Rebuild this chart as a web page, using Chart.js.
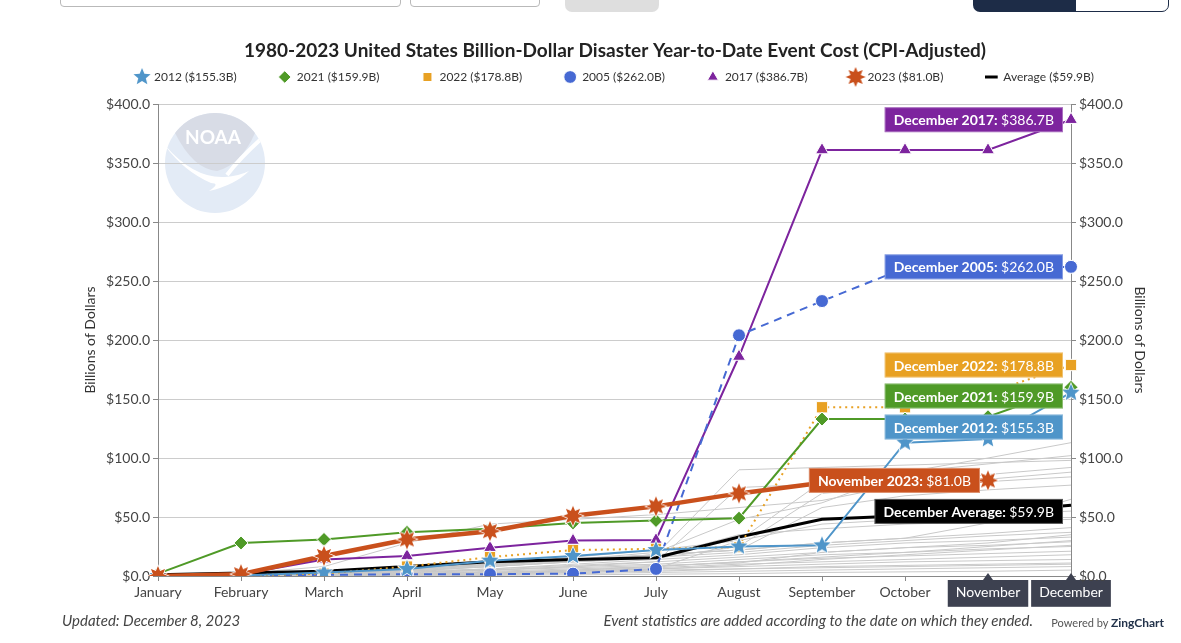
<!DOCTYPE html>
<html>
<head>
<meta charset="utf-8">
<script src="https://cdn.jsdelivr.net/npm/chart.js@4.4.1/dist/chart.umd.min.js"></script>
<style>
  body { margin: 0; background: #fff; font-family: Lato, sans-serif; }
  #wrap { position: relative; width: 1181px; height: 643px; overflow: hidden; }
  #chart { position: absolute; left: 0; top: 0; }
  .ui { position: absolute; box-sizing: border-box; }
  .note { position: absolute; font-style: italic; font-size: 15px; color: #444; white-space: nowrap; }
  .zing { position: absolute; font-size: 11px; color: #555; white-space: nowrap; }
</style>
</head>
<body>
<div id="wrap">
  <div class="ui" style="left:60px;top:-30px;width:341px;height:37px;border:1px solid #b9b9b9;border-radius:4px"></div>
  <div class="ui" style="left:410px;top:-30px;width:130px;height:37px;border:1px solid #b9b9b9;border-radius:4px"></div>
  <div class="ui" style="left:565px;top:-20px;width:94px;height:32px;background:#dedede;border-radius:7px"></div>
  <div class="ui" style="left:973px;top:-20px;width:103px;height:32px;background:#1d2c47;border-radius:0 0 0 7px"></div>
  <div class="ui" style="left:1075px;top:-20px;width:94px;height:32px;border:1px solid #1d2c47;border-radius:0 0 7px 0"></div>
  <canvas id="chart" width="1181" height="643"></canvas>
  <div class="note" style="left:62px;top:611px">Updated: December 8, 2023</div>
  <div class="note" style="right:148px;top:611px">Event statistics are added according to the date on which they ended.</div>
  <div class="zing" style="right:17px;top:615px">Powered by <b style="color:#22324a;font-size:12px">ZingChart</b></div>
</div>
<script>
// months on the x axis
const months = ['January', 'February', 'March', 'April', 'May', 'June', 'July',
  'August', 'September', 'October', 'November', 'December']

// highlighted years, cumulative cost in billions (CPI-adjusted)
const y2012 = [0, 0.5, 3, 6, 13, 17, 22, 25, 26, 113, 116, 155.3]
const y2021 = [2, 28, 31, 37, 40, 45, 47, 49, 133, 133, 135, 159.9]
const y2022 = [0, 0.5, 2, 8, 16, 22, 23, 24.5, 143, 143, 155, 178.8]
const y2005 = [0, 0.5, 1, 1.5, 1.5, 2, 6, 204, 233, 261, 261, 262.0]
const y2017 = [0.5, 1.5, 14, 17, 24, 30, 30.5, 186, 361, 361, 361, 386.7]
const y2023 = [0, 1.5, 17, 31, 38, 51, 59, 70, 79, 80, 81.0, null]
const average = [1, 2.5, 4, 8, 12, 14, 15.5, 33, 48, 51, 54, 59.9]

// the other years (grey background lines)
const otherYears = [
  [0, 1, 3, 6, 9, 14, 20, 48, 62, 88, 100, 113],
  [0, 1, 3, 6, 10, 16, 22, 30, 80, 88, 95, 102],
  [1, 2, 4, 7, 10, 14, 18, 90, 92, 94, 96, 98],
  [0, 2, 8, 28, 44, 48, 52, 58, 64, 78, 86, 92],
  [0, 1, 2, 3, 5, 8, 12, 75, 78, 80, 82, 88],
  [0, 1, 2, 4, 8, 12, 15, 25, 70, 76, 80, 84],
  [0, 0.5, 2, 5, 9, 13, 18, 22, 58, 68, 73, 77],
  [0, 1, 3, 6, 10, 14, 18, 22, 28, 32, 45, 65],
  [0, 0.5, 1, 2, 3, 4, 6, 30, 44, 48, 52, 55],
  [0, 1, 2, 5, 8, 12, 16, 35, 40, 44, 46, 48],
  [0, 1, 3, 6, 10, 14, 18, 22, 28, 32, 36, 41],
  [0, 1, 2, 4, 8, 12, 16, 20, 26, 30, 34, 37],
  [0, 1, 2, 3, 5, 7, 9, 11, 20, 24, 28, 35],
  [0, 0.5, 1.5, 3, 6, 10, 14, 18, 24, 28, 30, 33],
  [0, 0.5, 1, 2, 3, 5, 8, 12, 16, 20, 25, 30],
  [0, 1, 2, 4, 6, 9, 12, 16, 20, 24, 26, 29],
  [0, 0, 1, 1.5, 3, 4, 6, 9, 14, 18, 22, 26],
  [0, 0.5, 1, 3, 5, 8, 10, 14, 18, 20, 23, 25],
  [0, 0.5, 1, 2, 4, 6, 8, 12, 15, 17, 19, 21],
  [0, 0, 1, 2, 3, 5, 7, 10, 12, 14, 16, 18],
  [0, 0, 0.5, 1, 2, 4, 6, 8, 10, 12, 13, 14],
  [0, 0, 0.5, 1, 2, 3, 5, 6, 8, 9, 10, 11],
  [0, 0, 0.5, 1, 1.5, 3, 4, 6, 7, 8, 9, 10],
  [0, 0, 0, 0.5, 1, 2, 3, 4, 5, 6, 7, 8],
  [0, 0, 0, 0, 0.5, 1, 1.5, 2, 3, 3.5, 4, 5]
]

const FONT = 'Lato'

// star markers (chart.js 'star' is not a filled star)
function starMarker(points, outer, inner, color) {
  const size = Math.ceil(outer * 2 + 4)
  const c = document.createElement('canvas')
  c.width = c.height = size
  const g = c.getContext('2d')
  g.translate(size / 2, size / 2)
  g.beginPath()
  for (let i = 0; i < points * 2; i++) {
    const r = i % 2 ? inner : outer
    const a = Math.PI * i / points - Math.PI / 2
    g.lineTo(Math.cos(a) * r, Math.sin(a) * r)
  }
  g.closePath()
  g.lineWidth = 1.5
  g.strokeStyle = '#fff'
  g.stroke()
  g.fillStyle = color
  g.fill()
  return c
}

function lastValue(arr) {
  for (let i = arr.length - 1; i >= 0; i--) if (arr[i] != null) return arr[i]
}

function series(tag, data, color, extra) {
  return Object.assign({
    label: tag + ' ($' + lastValue(data).toFixed(1) + 'B)',
    tag: tag,
    data: data,
    borderColor: color,
    backgroundColor: color,
    pointBackgroundColor: color,
    pointBorderColor: '#fff',
    pointBorderWidth: 1,
    borderWidth: 2,
    order: 1
  }, extra)
}

const datasets = [
  series('2012', y2012, '#4f95c9', { pointStyle: starMarker(5, 9, 4, '#4f95c9'), pointRadius: 8 }),
  series('2021', y2021, '#4f9a27', { pointStyle: 'rectRot', pointRadius: 7 }),
  series('2022', y2022, '#e8a123', { pointStyle: 'rect', pointRadius: 8, borderDash: [2, 4] }),
  series('2005', y2005, '#4669d3', { pointStyle: 'circle', pointRadius: 6.5, borderDash: [8, 6] }),
  series('2017', y2017, '#7d249e', { pointStyle: 'triangle', pointRadius: 7.5 }),
  series('2023', y2023, '#c9501c', { pointStyle: starMarker(8, 10, 5.5, '#c9501c'), pointRadius: 9, borderWidth: 4.5, order: 0 }),
  series('Average', average, '#000', { pointStyle: 'line', pointRadius: 0, pointBorderColor: '#000', pointBorderWidth: 3, borderWidth: 3, order: 2 })
]
otherYears.forEach(d => datasets.push({
  label: '', data: d, borderColor: '#c9c9c9', borderWidth: 1, pointRadius: 0, order: 3
}))

// title sits over the legend row without taking layout space,
// legend gets a bit more room below it
const headerLayout = {
  id: 'headerLayout',
  beforeInit(chart) {
    if (chart.titleBlock) {
      const tupd = chart.titleBlock.update
      chart.titleBlock.update = function (w, h, m) {
        tupd.call(this, w, h, m)
        this.height = 0
        this.bottom = this.top
      }
    }
    if (chart.legend) {
      const lfit = chart.legend.fit
      chart.legend.fit = function () { lfit.call(this); this.height += 11 }
    }
  }
}

// watermark behind the plot
const noaaLogo = {
  id: 'noaaLogo',
  beforeDraw(chart) {
    const { ctx, chartArea } = chart
    const cx = chartArea.left + 57, cy = chartArea.top + 59, r = 50
    ctx.save()
    ctx.beginPath()
    ctx.arc(cx, cy, r, 0, Math.PI * 2)
    ctx.clip()
    ctx.fillStyle = '#e3ebf6'
    ctx.fillRect(cx - r, cy - r, r * 2, r * 2)
    // grey bowl at the top
    ctx.beginPath()
    ctx.moveTo(cx - 40, cy - 60)
    ctx.lineTo(cx - 40, cy - 30)
    ctx.quadraticCurveTo(cx - 22, cy + 6, cx + 2, cy + 8)
    ctx.quadraticCurveTo(cx + 26, cy + 2, cx + 40, cy - 30)
    ctx.lineTo(cx + 40, cy - 60)
    ctx.closePath()
    ctx.fillStyle = '#d8dce6'
    ctx.fill()
    // white bird
    ctx.beginPath()
    ctx.moveTo(cx - 52, cy - 20)
    ctx.quadraticCurveTo(cx - 22, cy + 16, cx + 10, cy + 14)
    ctx.quadraticCurveTo(cx + 24, cy + 13, cx + 34, cy + 8)
    ctx.quadraticCurveTo(cx + 20, cy + 22, cx - 6, cy + 28)
    ctx.quadraticCurveTo(cx + 6, cy + 20, cx - 4, cy + 20)
    ctx.quadraticCurveTo(cx - 32, cy + 8, cx - 52, cy - 20)
    ctx.fillStyle = '#fff'
    ctx.fill()
    ctx.beginPath()
    ctx.moveTo(cx + 46, cy - 24)
    ctx.quadraticCurveTo(cx + 24, cy - 4, cx + 12, cy + 12)
    ctx.lineWidth = 4
    ctx.strokeStyle = '#fff'
    ctx.stroke()
    ctx.fillStyle = '#fff'
    ctx.font = 'bold 19px ' + FONT
    ctx.textAlign = 'center'
    ctx.textBaseline = 'middle'
    ctx.fillText('NOAA', cx - 2, cy - 25)
    ctx.restore()
  }
}

// end-of-series value boxes
const endLabels = {
  id: 'endLabels',
  afterDatasetsDraw(chart) {
    const ctx = chart.ctx
    const items = []
    chart.data.datasets.forEach((ds, i) => {
      if (!ds.tag) return
      let k = ds.data.length - 1
      while (ds.data[k] == null) k--
      const pt = chart.getDatasetMeta(i).data[k]
      items.push({ ds, k, x: pt.x, y: pt.y })
    })
    items.sort((a, b) => a.y - b.y)
    const h = 25, gap = 6
    const placed = []
    ctx.save()
    ctx.textBaseline = 'middle'
    items.forEach(it => {
      const head = months[it.k] + ' ' + it.ds.tag + ': '
      const val = '$' + it.ds.data[it.k].toFixed(1) + 'B'
      ctx.font = 'bold 14px ' + FONT
      const w1 = ctx.measureText(head).width
      ctx.font = '14px ' + FONT
      const w2 = ctx.measureText(val).width
      const w = w1 + w2 + 18
      const right = it.x - 8, left = right - w
      let cy = it.y
      placed.forEach(p => {
        if (left < p.right && right > p.left && cy - h / 2 < p.bottom + gap) cy = p.bottom + gap + h / 2
      })
      placed.push({ left, right, bottom: cy + h / 2 })
      ctx.fillStyle = it.ds.borderColor
      ctx.fillRect(left, cy - h / 2, w, h)
      ctx.strokeStyle = 'rgba(255,255,255,0.35)'
      ctx.lineWidth = 1
      ctx.strokeRect(left + 0.5, cy - h / 2 + 0.5, w - 1, h - 1)
      ctx.fillStyle = '#fff'
      ctx.font = 'bold 14px ' + FONT
      ctx.fillText(head, left + 9, cy + 1)
      ctx.font = '14px ' + FONT
      ctx.fillText(val, left + 9 + w1, cy + 1)
    })
    ctx.restore()
  },
  afterDraw(chart) {
    // little crosshair markers under the last two months
    const ctx = chart.ctx
    const x = chart.scales.x
    ctx.save()
    ctx.fillStyle = '#3d4150'
    ;[10, 11].forEach(i => {
      const px = x.getPixelForValue(i)
      ctx.beginPath()
      ctx.moveTo(px, x.top - 3)
      ctx.lineTo(px - 5, x.top + 4)
      ctx.lineTo(px + 5, x.top + 4)
      ctx.fill()
    })
    ctx.restore()
  }
}

const money = v => '$' + Number(v).toFixed(1)
const tickFont = { family: FONT, size: 14 }

new Chart(document.getElementById('chart'), {
  type: 'line',
  data: { labels: months, datasets: datasets },
  plugins: [headerLayout, noaaLogo, endLabels],
  options: {
    responsive: false,
    animation: false,
    layout: { padding: { top: 29, left: 82, right: 33, bottom: 31 } },
    plugins: {
      tooltip: { enabled: false },
      title: {
        display: true,
        text: '1980-2023 United States Billion-Dollar Disaster Year-to-Date Event Cost (CPI-Adjusted)',
        color: '#222',
        font: { family: FONT, size: 19, weight: 'bold' },
        padding: { top: 10, bottom: 0 }
      },
      legend: {
        labels: {
          usePointStyle: true,
          boxHeight: 9,
          padding: 42,
          color: '#333',
          font: { family: FONT, size: 12 },
          filter: item => item.text !== '',
          sort: (a, b) => a.datasetIndex - b.datasetIndex
        }
      }
    },
    scales: {
      x: {
        grid: { drawOnChartArea: false, tickLength: 5, color: '#888' },
        border: { color: '#888' },
        ticks: {
          font: tickFont,
          padding: 3,
          maxRotation: 0,
          autoSkip: false,
          color: c => c.index >= 10 ? '#fff' : '#444',
          showLabelBackdrop: true,
          backdropColor: c => c.index >= 10 ? '#3d4150' : 'rgba(0,0,0,0)',
          backdropPadding: { top: 4, bottom: 6, left: 8, right: 8 }
        },
        afterFit: s => { s.height = 36 }
      },
      y: {
        position: 'left',
        min: 0, max: 400,
        ticks: { stepSize: 50, callback: money, font: tickFont, color: '#444', padding: 3 },
        grid: { color: '#cccccc', tickColor: '#888', tickLength: 5 },
        border: { color: '#888' },
        title: { display: true, text: 'Billions of Dollars', color: '#333', font: tickFont, padding: 0 },
        afterFit: s => { s.width = 76 }
      },
      y2: {
        position: 'right',
        min: 0, max: 400,
        ticks: { stepSize: 50, callback: money, font: tickFont, color: '#444', padding: 3 },
        grid: { drawOnChartArea: false, tickColor: '#888', tickLength: 5 },
        border: { color: '#888' },
        title: { display: true, text: 'Billions of Dollars', color: '#333', font: tickFont, padding: 0 },
        afterFit: s => { s.width = 77 }
      }
    }
  }
})
</script>
</body>
</html>
